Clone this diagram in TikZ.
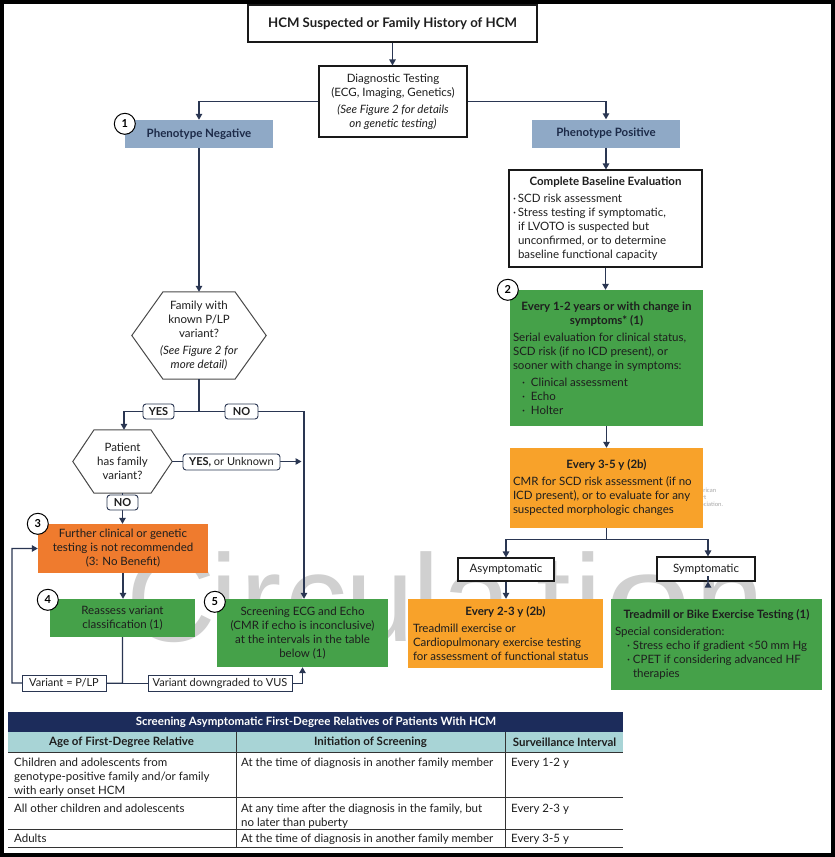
\documentclass[tikz,border=0pt]{standalone}
\usepackage{fontspec}
\setmainfont{Lato}
\newfontfamily\wmfont{Liberation Sans}
\usetikzlibrary{arrows.meta,calc}
\definecolor{navy}{HTML}{2A3652}
\definecolor{textdark}{HTML}{1E1E1E}
\definecolor{phenblue}{HTML}{8FA9C6}
\definecolor{phentext}{HTML}{1C2A48}
\definecolor{gfill}{HTML}{45A149}
\definecolor{ofill}{HTML}{F8A22A}
\definecolor{othree}{HTML}{EF7B2E}
\definecolor{tnavy}{HTML}{1C2C5B}
\definecolor{tteal}{HTML}{A8D4D6}
\definecolor{hexgray}{HTML}{4A4A4A}
\definecolor{wmgray}{HTML}{D0D0D0}
\newcommand{\boxhead}[2]{\makebox[#1]{\bfseries #2}}
\newcommand{\mybul}[2]{\hspace*{#1}\makebox[#2][l]{\textperiodcentered}}
\begin{document}
\begin{tikzpicture}[x=1pt,y=-1pt,
  ln/.style={draw=navy, line width=1.2pt},
  arr/.style={ln, -{Triangle[length=6pt,width=6.5pt]}},
  txt/.style={font=\fontsize{11.5}{14}\selectfont, text=textdark, inner sep=0pt},
  wbox/.style={txt, draw=black!90, fill=white, line width=1.1pt},
  phen/.style={txt, fill=phenblue, text=phentext, font=\fontsize{11.5}{14}\selectfont\bfseries, minimum width=148pt, minimum height=28pt},
  gbox/.style={txt, fill=gfill},
  obox/.style={txt, fill=ofill},
  lbl/.style={txt, draw=navy, fill=white, rounded corners=3pt, line width=0.9pt, minimum height=15pt, font=\fontsize{11}{13}\selectfont\bfseries},
  sqlbl/.style={txt, draw=navy, fill=white, line width=0.9pt, minimum height=16pt, font=\fontsize{11}{13}\selectfont},
  numc/.style={circle, draw=black, fill=white, line width=1pt, minimum size=21pt, inner sep=0pt, font=\fontsize{11}{11}\selectfont\bfseries},
  hexline/.style={draw=hexgray, line width=1pt},
  cell/.style={txt, anchor=north west, align=left},
  tline/.style={draw=black!80, line width=0.9pt},
  wm/.style={anchor=base west, text=wmgray, font=\fontsize{124}{124}\selectfont\wmfont, inner sep=0pt}
]
\useasboundingbox (0,0) rectangle (835,857);
\fill[white] (0,0) rectangle (835,857);

% watermarks
\node[wm] (wm1) at (126,641) {C};
\node[wm] (wm2) at (210,641) {i};
\node[wm] (wm3) at (240,641) {r};
\node[wm] (wm4) at (285,641) {c};
\node[wm] (wm5) at (345,641) {u};
\node[wm] (wm6) at (412,641) {l};
\node[wm] (wm7) at (442,641) {a};
\node[wm] (wm8) at (536,641) {t};
\node[wm] (wm9) at (574,641) {i};
\node[wm, xscale=1.25] (wm10) at (605,641) {o};
\node[wm] (wm11) at (695,641) {n};
\node[anchor=north west, align=left, text=gray!70, font=\fontsize{6}{7}\selectfont, inner sep=0pt] (aha) at (691,488) {American\\Heart\\Association.};

% top
\node[wbox, font=\fontsize{13.2}{16}\selectfont\bfseries, minimum width=289pt, minimum height=37pt] (title) at (392.5,23.5) {HCM Suspected or Family History of HCM};
\node[wbox, align=center, minimum width=148pt, minimum height=71pt] (diag) at (393,101.5) {Diagnostic Testing\\(ECG, Imaging, Genetics)\\[3pt]\textit{(See Figure 2 for details}\\\textit{on genetic testing)}};
\node[phen] (pneg) at (199,134) {Phenotype Negative};
\node[phen] (ppos) at (606,133.5) {Phenotype Positive};

% right column
\node[wbox, align=left, minimum width=193pt, minimum height=97pt] (cbe) at (605.5,218.5) {\boxhead{187pt}{Complete Baseline Evaluation}\\[3pt]
\mybul{1pt}{5pt}SCD risk assessment\\
\mybul{1pt}{5pt}Stress testing if symptomatic,\\
\hspace*{6pt}if LVOTO is suspected but\\
\hspace*{6pt}unconfirmed, or to determine\\
\hspace*{6pt}baseline functional capacity};

\node[gbox, align=left, minimum width=193pt, minimum height=136pt] (g2) at (606.5,358) {\boxhead{187pt}{Every 1-2 years or with change in}\\
\boxhead{187pt}{symptoms* (1)}\\[3pt]
Serial evaluation for clinical status,\\
SCD risk (if no ICD present), or\\
sooner with change in symptoms:\\[3pt]
\mybul{9pt}{9pt}Clinical assessment\\
\mybul{9pt}{9pt}Echo\\
\mybul{9pt}{9pt}Holter};

\node[obox, align=left, minimum width=193pt, minimum height=80pt] (o35) at (606.5,488) {\boxhead{187pt}{Every 3-5 y (2b)}\\[3pt]
CMR for SCD risk assessment (if no\\
ICD present), or to evaluate for any\\
suspected morphologic changes};

\node[wbox, minimum width=96pt, minimum height=23pt] (asym) at (506,569.5) {Asymptomatic};
\node[wbox, minimum width=98pt, minimum height=24pt] (sym) at (706,569) {Symptomatic};

\node[obox, align=left, minimum width=195pt, minimum height=69pt] (o23) at (505.5,633.5) {\boxhead{185pt}{Every 2-3 y (2b)}\\[3pt]
Treadmill exercise or\\
Cardiopulmonary exercise testing\\
for assessment of functional status};

\node[gbox, align=left, minimum width=211pt, minimum height=91pt] (gT) at (716.5,644.5) {\boxhead{203pt}{Treadmill or Bike Exercise Testing (1)}\\[3pt]
Special consideration:\\
\mybul{12pt}{6pt}Stress echo if gradient <50 mm Hg\\
\mybul{12pt}{6pt}CPET if considering advanced HF\\
\hspace*{18pt}therapies};

% left column
\node[txt, align=center, minimum width=134pt, minimum height=87pt] (hexA) at (199,335.5) {Family with\\known P/LP\\variant?\\[3pt]\textit{(See Figure 2 for}\\\textit{more detail)}};
\draw[hexline] ($(hexA.north)+(-36,0)$) -- ($(hexA.north)+(36,0)$) -- (hexA.east) -- ($(hexA.south)+(36,0)$) -- ($(hexA.south)+(-36,0)$) -- (hexA.west) -- cycle;

\node[txt, align=center, minimum width=99pt, minimum height=63pt] (hexB) at (122.5,461.5) {Patient\\has family\\variant?};
\draw[hexline] ($(hexB.north)+(-28.5,0)$) -- ($(hexB.north)+(28.5,0)$) -- (hexB.east) -- ($(hexB.south)+(28.5,0)$) -- ($(hexB.south)+(-28.5,0)$) -- (hexB.west) -- cycle;

\node[txt, fill=othree, align=center, minimum width=170pt, minimum height=49pt] (b3) at (123,548.5) {Further clinical or genetic\\testing is not recommended\\(3: No Benefit)};
\node[gbox, align=center, minimum width=145pt, minimum height=38pt] (b4) at (122.5,618) {Reassess variant\\classification (1)};
\node[gbox, align=center, minimum width=171pt, minimum height=68pt] (b5) at (302.5,633) {Screening ECG and Echo\\(CMR if echo is inconclusive)\\at the intervals in the table\\below (1)};

% connectors top / right
\draw[arr] (title.south) -- (title.south |- diag.north);
\draw[arr] (diag.west) -| (pneg.north);
\draw[arr] (diag.east) -| (ppos.north);
\draw[arr] (ppos.south) -- (ppos.south |- cbe.north);
\draw[arr] (cbe.south) -- (cbe.south |- g2.north);
\draw[arr] (g2.south) -- (g2.south |- o35.north);
\coordinate (ss) at ($(o35.south)+(0,11)$);
\draw[ln] (o35.south) -- (ss);
\draw[arr] (ss) -| (asym.north);
\draw[arr] (ss) -| ($(sym.north)+(2,0)$);
\draw[arr] (asym.south) -- (asym.south |- o23.north);
\draw[arr] ($(sym.south)+(2,0)$) -- ($(sym.south)+(2,0)$ |- gT.north);

% connectors left
\draw[arr] (pneg.south) -- (pneg.south |- hexA.north);
\coordinate (yn) at ($(hexA.south)+(0,32)$);
\draw[ln] (hexA.south) -- (yn);
\draw[arr] (yn) -| ($(hexB.north)+(1.5,0)$);
\draw[arr] (yn) -| ($(b5.north)+(1.5,0)$);
\draw[arr] (hexB.east) -- ($(hexB.east -| b5.north)+(-1,0)$);
\draw[arr] (hexB.south) -- (hexB.south |- b3.north);
\draw[arr] (b3.south) -- (b3.south |- b4.north);
\coordinate (vs) at ($(b4.south)+(0,46)$);
\coordinate (lft) at (12,683);
\draw[arr] (b4.south) -- (vs) -- (lft) |- (b3.west);
\draw[arr] (vs) -| (b5.south);

% labels
\node[lbl, minimum width=31pt] (yes1) at (158.5,411.5) {YES};
\node[lbl, minimum width=33pt] (no1) at (241.5,411.5) {NO};
\node[lbl, minimum width=97pt, minimum height=16pt] (yesu) at (231.5,462) {YES, \mdseries or Unknown};
\node[lbl, minimum width=31pt] (no2) at (122.5,502.5) {NO};
\node[sqlbl, minimum width=84pt] (vplp) at (64,683) {Variant = P/LP};
\node[sqlbl, minimum width=144pt] (vvus) at (220,683) {Variant downgraded to VUS};

% numbers
\node[numc] (n1) at ($(pneg.north west)+(0,4)$) {1};
\node[numc] (n2) at ($(g2.north west)+(-2,0)$) {2};
\node[numc] (n3) at (b3.north west) {3};
\node[numc] (n4) at ($(b4.north west)+(-2,1)$) {4};
\node[numc] (n5) at ($(b5.north west)+(-2,3)$) {5};

% table
\fill[tnavy] (8,712) rectangle (623,732);
\fill[tteal] (8,732) rectangle (623,752);
\node[txt, text=white, font=\fontsize{11.5}{14}\selectfont\bfseries] (tt) at (316,722) {Screening Asymptomatic First-Degree Relatives of Patients With HCM};
\node[txt, font=\fontsize{11.5}{14}\selectfont\bfseries] (h1) at (121.5,742) {Age of First-Degree Relative};
\node[txt, font=\fontsize{11.5}{14}\selectfont\bfseries] (h2) at (370.5,742) {Initiation of Screening};
\node[txt, font=\fontsize{11.5}{14}\selectfont\bfseries] (h3) at (564.5,742) {Surveillance Interval};
\draw[tline] (8,752) -- (623,752);
\draw[tline] (8,797) -- (623,797);
\draw[tline] (8,829) -- (623,829);
\draw[tline] (8,847) -- (623,847);
\draw[tline] (236,732) -- (236,847);
\draw[tline] (505,732) -- (505,847);
\node[cell] (c11) at (14,757.5) {Children and adolescents from\\genotype-positive family and/or family\\with early onset HCM};
\node[cell] (c12) at (241,757.5) {At the time of diagnosis in another family member};
\node[cell] (c13) at (511,757.5) {Every 1-2 y};
\node[cell] (c21) at (14,804) {All other children and adolescents};
\node[cell] (c22) at (241,804) {At any time after the diagnosis in the family, but\\no later than puberty};
\node[cell] (c23) at (511,804) {Every 2-3 y};
\node[cell] (c31) at (14,833.5) {Adults};
\node[cell] (c32) at (241,833.5) {At the time of diagnosis in another family member};
\node[cell] (c33) at (511,833.5) {Every 3-5 y};

% frame
\draw[black, line width=4pt] (2,2) rectangle (833,855);
\end{tikzpicture}
\end{document}
